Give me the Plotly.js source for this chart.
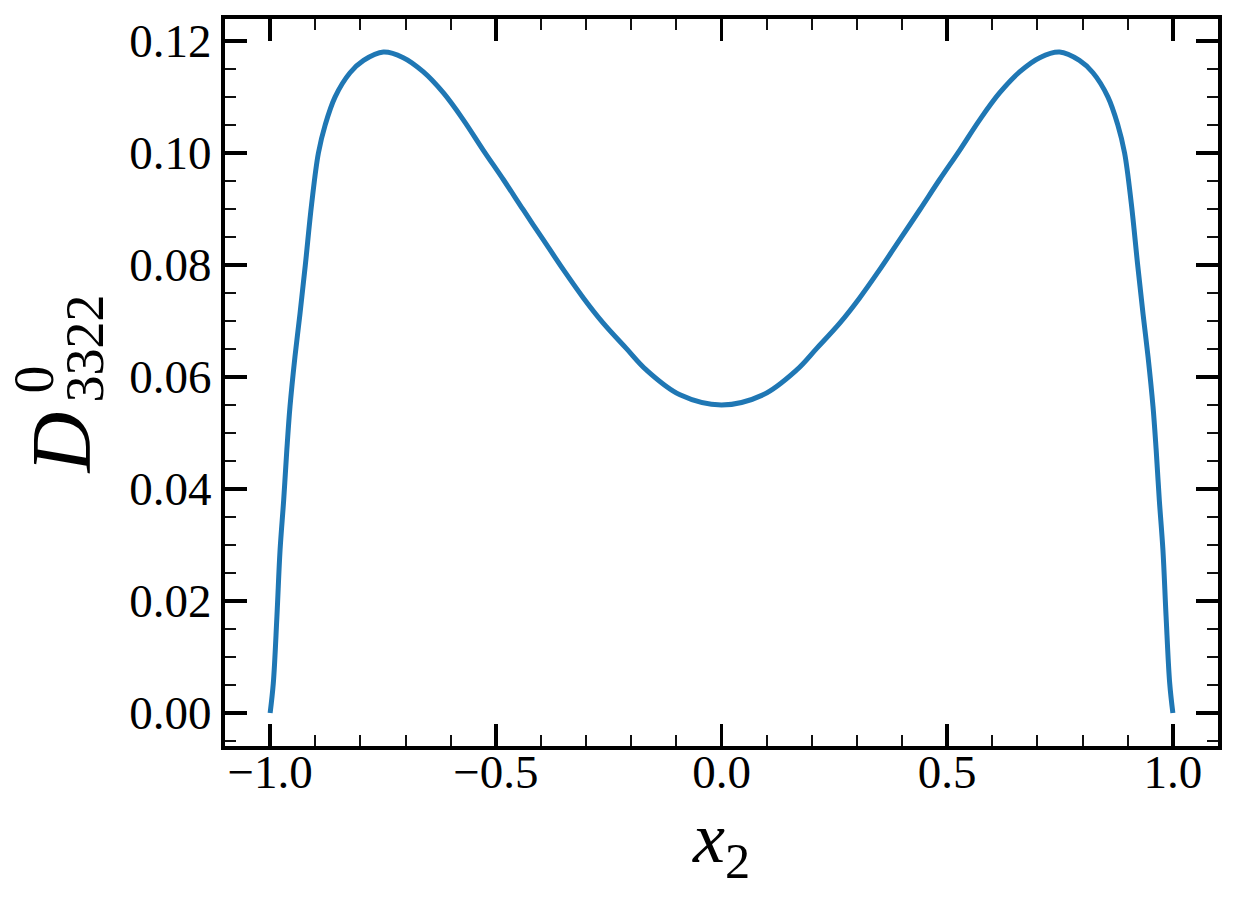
<!DOCTYPE html>
<html>
<head>
<meta charset="utf-8">
<script src="https://cdn.plot.ly/plotly-3.0.1.min.js"></script>
<style>
  body { margin: 0; background: #fff; }
  #chart { width: 1237px; height: 908px; }
</style>
</head>
<body>
<div id="chart"></div>
<script>
// values (symmetric about x2 = 0)
const xVals = [
  -1.000, -0.993, -0.985, -0.978, -0.970, -0.963, -0.956, -0.945, -0.934, -0.922,
  -0.908, -0.893, -0.878, -0.856, -0.823, -0.793, -0.749, -0.705, -0.661,
  -0.616, -0.572, -0.528, -0.483, -0.439, -0.395, -0.350, -0.306, -0.262, -0.211,
  -0.166, -0.092, 0.000,
  0.092, 0.166, 0.211, 0.262, 0.306, 0.350, 0.395, 0.439, 0.483, 0.528,
  0.572, 0.616, 0.661, 0.705, 0.749, 0.793, 0.823, 0.856, 0.878,
  0.893, 0.908, 0.922, 0.934, 0.945, 0.956, 0.963, 0.970, 0.978, 0.985,
  0.993, 1.000
];
const dVals = [
  0.0000, 0.0053, 0.0172, 0.0291, 0.0380, 0.0470, 0.0547, 0.0636, 0.0712, 0.0800,
  0.0909, 0.1000, 0.1050, 0.1100, 0.1143, 0.1165, 0.1180, 0.1170, 0.1145,
  0.1107, 0.1059, 0.1005, 0.0952, 0.0898, 0.0845, 0.0791, 0.0741, 0.0696, 0.0651,
  0.0612, 0.0568, 0.0550,
  0.0568, 0.0612, 0.0651, 0.0696, 0.0741, 0.0791, 0.0845, 0.0898, 0.0952, 0.1005,
  0.1059, 0.1107, 0.1145, 0.1170, 0.1180, 0.1165, 0.1143, 0.1100, 0.1050,
  0.1000, 0.0909, 0.0800, 0.0712, 0.0636, 0.0547, 0.0470, 0.0380, 0.0291, 0.0172,
  0.0053, 0.0000
];
const xTicks = [-1.0, -0.5, 0.0, 0.5, 1.0];
const yTicks = [0.00, 0.02, 0.04, 0.06, 0.08, 0.10, 0.12];

const serif = 'Liberation Serif, Times New Roman, serif';

const trace = {
  x: xVals,
  y: dVals,
  mode: 'lines',
  line: { color: '#1f77b4', width: 5, shape: 'spline', smoothing: 1 },
  hoverinfo: 'skip'
};

const axisCommon = {
  showline: true,
  linecolor: '#000',
  linewidth: 4,
  mirror: 'allticks',
  ticks: 'inside',
  ticklen: 22,
  tickwidth: 3.5,
  tickcolor: '#000',
  showgrid: false,
  zeroline: false,
  tickfont: { family: serif, size: 47, color: '#000' }
};

const layout = {
  width: 1237,
  height: 908,
  margin: { l: 225, r: 19, t: 19, b: 162 },
  paper_bgcolor: '#fff',
  plot_bgcolor: '#fff',
  showlegend: false,
  xaxis: Object.assign({}, axisCommon, {
    range: [-1.1, 1.1],
    tickvals: xTicks,
    tickformat: '.1f',
    ticklabelstandoff: -18,
    minor: { ticks: 'inside', ticklen: 11, tickwidth: 2, tickcolor: '#111', dtick: 0.1, tick0: 0 },
    title: { text: '<i>x</i><sub>2</sub>', font: { family: serif, size: 72, color: '#000' }, standoff: 8 }
  }),
  yaxis: Object.assign({}, axisCommon, {
    range: [-0.0059, 0.1239],
    tickvals: yTicks,
    tickformat: '.2f',
    ticklabelstandoff: 0,
    minor: { ticks: 'inside', ticklen: 11, tickwidth: 2, tickcolor: '#111', dtick: 0.005, tick0: 0 }
  }),
  // stacked super/subscript for D^0_3322
  annotations: [
    { text: '<i>D</i>', xref: 'paper', yref: 'paper', x: -0.1646, y: 0.4168, textangle: -90,
      showarrow: false, xanchor: 'center', yanchor: 'middle', font: { family: serif, size: 84, color: '#000' } },
    { text: '0', xref: 'paper', yref: 'paper', x: -0.1928, y: 0.5034, textangle: -90,
      showarrow: false, xanchor: 'center', yanchor: 'middle', font: { family: serif, size: 56, color: '#000' } },
    { text: '3322', xref: 'paper', yref: 'paper', x: -0.1415, y: 0.5475, textangle: -90,
      showarrow: false, xanchor: 'center', yanchor: 'middle', font: { family: serif, size: 54, color: '#000' } }
  ]
};

Plotly.newPlot('chart', [trace], layout, { displayModeBar: false, staticPlot: true });
</script>
</body>
</html>
